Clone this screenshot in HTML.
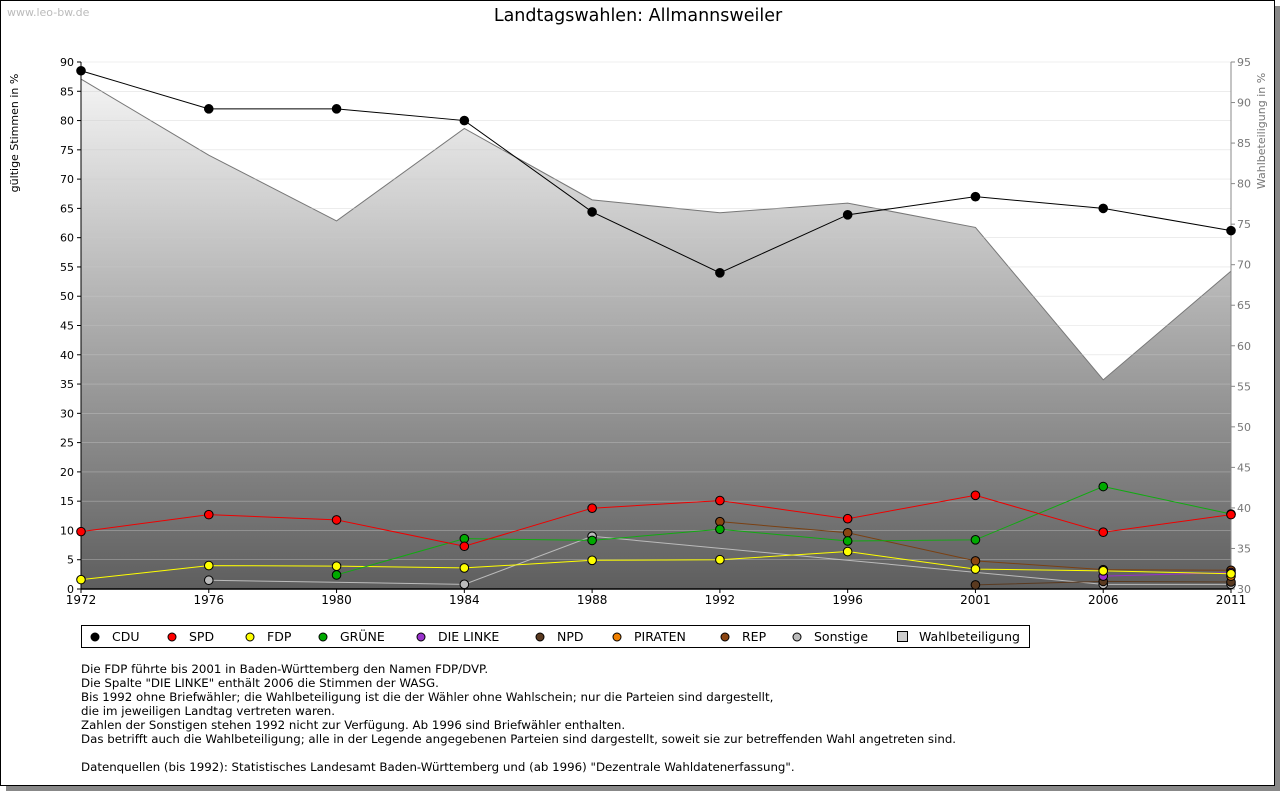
<!DOCTYPE html>
<html><head><meta charset="utf-8"><style>
body{margin:0;background:#fff;font-family:"DejaVu Sans","Liberation Sans",sans-serif;}
#wrap{position:absolute;left:0;top:0;width:1273px;height:784px;border:1px solid #000;background:#fff;box-shadow:6px 6px 0 #888;}
.note{position:absolute;left:80px;font-size:11.8px;color:#000;line-height:14px;}
svg text{font-family:"DejaVu Sans","Liberation Sans",sans-serif;}
</style></head><body>
<div id="wrap">
<svg id="chart" width="1274" height="785" style="position:absolute;left:0;top:0">
<defs><linearGradient id="wg" x1="0" y1="0" x2="0" y2="1"><stop offset="0" stop-color="#f4f4f4"/><stop offset="1" stop-color="#5e5e5e"/></linearGradient></defs>
</svg>
<div class="note" style="top:661px">Die FDP führte bis 2001 in Baden-Württemberg den Namen FDP/DVP.<br>Die Spalte "DIE LINKE" enthält 2006 die Stimmen der WASG.<br>Bis 1992 ohne Briefwähler; die Wahlbeteiligung ist die der Wähler ohne Wahlschein; nur die Parteien sind dargestellt,<br>die im jeweiligen Landtag vertreten waren.<br>Zahlen der Sonstigen stehen 1992 nicht zur Verfügung. Ab 1996 sind Briefwähler enthalten.<br>Das betrifft auch die Wahlbeteiligung; alle in der Legende angegebenen Parteien sind dargestellt, soweit sie zur betreffenden Wahl angetreten sind.<br><br>Datenquellen (bis 1992): Statistisches Landesamt Baden-Württemberg und (ab 1996) "Dezentrale Wahldatenerfassung".</div>
</div>
<script>
const years=["1972","1976","1980","1984","1988","1992","1996","2001","2006","2011"];
const turnout=[92.9,83.5,75.4,86.8,78,76.4,77.6,74.6,55.8,69.2];
const cdu=[88.5,82,82,80,64.4,54,63.9,67,65,61.2];
const spd=[9.8,12.7,11.8,7.3,13.8,15.1,12,16,9.7,12.7];
const fdp=[1.6,4,3.9,3.6,4.9,5,6.4,3.4,3.1,2.6];
const gruene=[null,null,2.4,8.6,8.3,10.2,8.2,8.4,17.5,12.8];
const linke=[null,null,null,null,null,null,null,null,2.2,2.8];
const npd=[null,null,null,null,null,null,null,0.7,1.3,1.2];
const piraten=[null,null,null,null,null,null,null,null,null,2.2];
const rep=[null,null,null,null,null,11.5,9.6,4.8,3.3,3.2];
const sonst=[null,1.5,null,0.8,9,null,null,null,0.8,0.8];
const leftTicks=[0,5,10,15,20,25,30,35,40,45,50,55,60,65,70,75,80,85,90];
const rightTicks=[30,35,40,45,50,55,60,65,70,75,80,85,90,95];
const L=80,R=1230,T=61,B=588;
const x=i=>L+i*(R-L)/(years.length-1);
const yL=v=>B-v*(B-T)/90;
const yR=v=>B-(v-30)*(B-T)/65;
const svg=document.getElementById('chart');const NS='http://www.w3.org/2000/svg';
function mk(t,a,p){const e=document.createElementNS(NS,t);for(const k in a)e.setAttribute(k,a[k]);(p||svg).appendChild(e);return e;}
let t=mk('text',{x:637,y:20,'text-anchor':'middle','font-size':17.5,fill:'#000'});t.textContent='Landtagswahlen: Allmannsweiler';


t=mk('text',{x:6,y:15,'font-size':11,fill:'#bbb'});t.textContent='www.leo-bw.de';


let d='M'+x(0)+','+B;turnout.forEach((v,i)=>d+=' L'+x(i)+','+yR(v));d+=' L'+x(turnout.length-1)+','+B+' Z';
let a=mk('path',{d:d,fill:'url(#wg)'});


let ld='';turnout.forEach((v,i)=>ld+=(i?' L':'M')+x(i)+','+yR(v));
mk('path',{d:ld,fill:'none',stroke:'#777','stroke-width':1});
leftTicks.forEach(v=>{const y=yL(v);mk('line',{x1:L,x2:R,y1:y,y2:y,stroke:'#ccc','stroke-width':0.6,'stroke-opacity':0.6});
mk('line',{x1:L-4,x2:L,y1:y,y2:y,stroke:'#000'});
const e=mk('text',{x:L-7,y:y+4,'text-anchor':'end','font-size':11});e.textContent=v;

});
rightTicks.forEach(v=>{const y=yR(v);mk('line',{x1:R,x2:R+4,y1:y,y2:y,stroke:'#888'});
const e=mk('text',{x:R+6,y:y+4,'font-size':11,fill:'#777'});e.textContent=v;

});
mk('line',{x1:L,x2:L,y1:T,y2:B,stroke:'#000'});mk('line',{x1:R,x2:R,y1:T,y2:B,stroke:'#888'});
mk('line',{x1:L,x2:R,y1:B,y2:B,stroke:'#000','stroke-width':1.5});
years.forEach((yv,i)=>{mk('line',{x1:x(i),x2:x(i),y1:B,y2:B+4,stroke:'#000'});const e=mk('text',{x:x(i),y:B+15,'text-anchor':'middle','font-size':12});e.textContent=yv;

});
t=mk('text',{transform:'translate(17,132) rotate(-90)','text-anchor':'middle','font-size':11});t.textContent='gültige Stimmen in %';


t=mk('text',{transform:'translate(1264,130) rotate(-90)','text-anchor':'middle','font-size':11,fill:'#777'});t.textContent='Wahlbeteiligung in %';


const series=[['cdu',cdu,'#000','#000'],['sonstige',sonst,'#bbb','#bbb'],['rep',rep,'#7a4012','#8b4513'],['npd',npd,'#5a3a20','#5a3a20'],['piraten',piraten,'#f08000','#f08000'],['linke',linke,'#9932cc','#9932cc'],['fdp',fdp,'#ff0','#ff0'],['gruene',gruene,'#1a1','#0a0'],['spd',spd,'#e00','#f00']];
series.forEach(([n,vals,lc,fc])=>{let p='';vals.forEach((v,i)=>{if(v!=null)p+=(p?' L':'M')+x(i)+','+yL(v);});
if(p.includes('L')){const l=mk('path',{d:p,fill:'none',stroke:lc,'stroke-width':1});

}
vals.forEach((v,i)=>{if(v==null)return;const m=mk('circle',{cx:x(i),cy:yL(v),r:4.3,fill:fc,stroke:'#000','stroke-width':1});

});});
mk('rect',{x:80.5,y:624.5,width:948,height:22,fill:'#fff',stroke:'#000'});
const leg=[['CDU','#000',90],['SPD','#f00',167],['FDP','#ff0',245],['GRÜNE','#0a0',318],['DIE LINKE','#9932cc',416],['NPD','#5a3a20',535],['PIRATEN','#f08000',612],['REP','#8b4513',720],['Sonstige','#bbb',792]];
leg.forEach(([lab,c,lx])=>{mk('circle',{cx:lx+4,cy:636,r:4,fill:c,stroke:'#000'});
const e=mk('text',{x:lx+21,y:640,'font-size':12.5});e.textContent=lab;

});
mk('rect',{x:896.5,y:630.5,width:10,height:10,fill:'#ccc',stroke:'#000'});
t=mk('text',{x:918,y:640,'font-size':12.5});t.textContent='Wahlbeteiligung';


</script>
</body></html>
